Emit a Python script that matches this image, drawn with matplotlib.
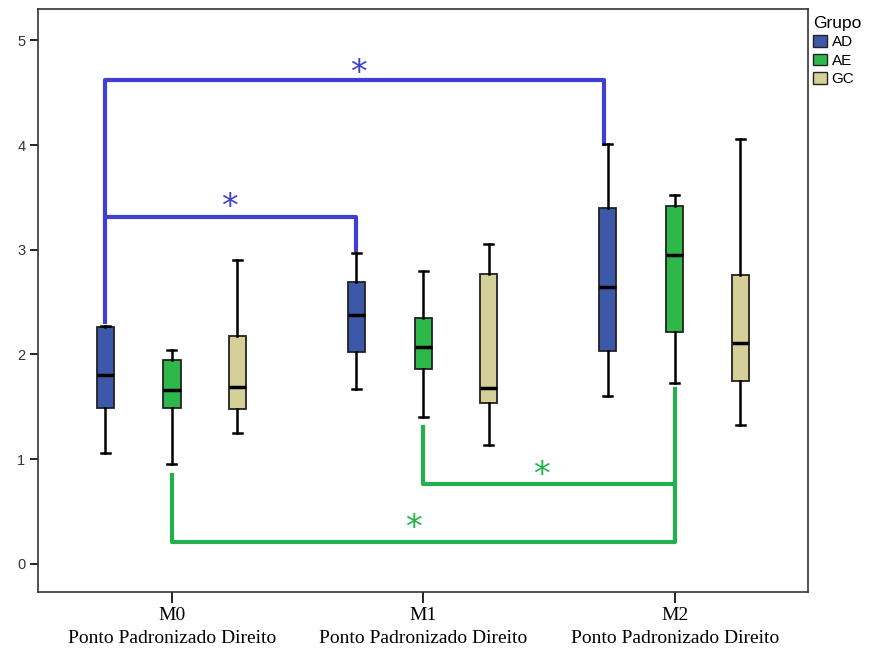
import matplotlib
matplotlib.use("Agg")
import matplotlib.pyplot as plt
from matplotlib.patches import Patch

moments = ["M0", "M1", "M2"]
sublabel = "Ponto Padronizado Direito"
groups = ["AD", "AE", "GC"]
colors = {"AD": "#3d58a8", "AE": "#2fb84a", "GC": "#d5cf98"}

# stats per group: (whislo, q1, med, q3, whishi) for M0, M1, M2
AD = [(1.06, 1.49, 1.80, 2.26, 2.27), (1.67, 2.02, 2.38, 2.69, 2.97), (1.60, 2.03, 2.64, 3.40, 4.01)]
AE = [(0.95, 1.49, 1.66, 1.95, 2.04), (1.40, 1.86, 2.07, 2.35, 2.80), (1.73, 2.21, 2.95, 3.42, 3.52)]
GC = [(1.25, 1.48, 1.69, 2.18, 2.90), (1.13, 1.54, 1.68, 2.77, 3.05), (1.33, 1.75, 2.11, 2.76, 4.06)]
data = {"AD": AD, "AE": AE, "GC": GC}
offsets = {"AD": -0.266, "AE": 0.0, "GC": 0.26}

blue = "#4040d0"
green = "#22b14c"

fig = plt.figure(figsize=(8.75, 6.5), dpi=100)
ax = fig.add_axes([0.0434, 0.0892, 0.88, 0.897])

for g in groups:
    stats = []
    for s in data[g]:
        stats.append(dict(whislo=s[0], q1=s[1], med=s[2], q3=s[3], whishi=s[4], fliers=[]))
    pos = [i + offsets[g] for i in range(3)]
    ax.bxp(stats, positions=pos, widths=0.068, patch_artist=True, showfliers=False,
           boxprops=dict(facecolor=colors[g], edgecolor="#222222", linewidth=1.3),
           medianprops=dict(color="black", linewidth=2.5),
           whiskerprops=dict(color="black", linewidth=1.8),
           capprops=dict(color="black", linewidth=1.8),
           capwidths=0.036, manage_ticks=False, zorder=3)

# significance brackets (blue)
ax.plot([-0.266, -0.266, 1.72, 1.72], [2.31, 4.62, 4.62, 4.01], color=blue, lw=3, zorder=2)
ax.plot([-0.266, 0.734, 0.734], [3.31, 3.31, 3.0], color=blue, lw=3, zorder=2)
ax.text(0.74, 4.68, "*", color=blue, fontsize=24, ha="center", va="center")
ax.text(0.23, 3.40, "*", color=blue, fontsize=24, ha="center", va="center")
# green
ax.plot([0.0, 0.0, 2.0, 2.0], [0.85, 0.21, 0.21, 1.67], color=green, lw=3, zorder=2)
ax.plot([1.0, 1.0, 2.0], [1.31, 0.76, 0.76], color=green, lw=3, zorder=2)
ax.text(1.47, 0.84, "*", color=green, fontsize=24, ha="center", va="center")
ax.text(0.96, 0.34, "*", color=green, fontsize=24, ha="center", va="center")

ax.set_xlim(-0.533, 2.53)
ax.set_ylim(-0.27, 5.3)
ax.set_yticks([0, 1, 2, 3, 4, 5])
ax.set_yticklabels(["0", "1", "2", "3", "4", "5"], fontfamily="Liberation Sans", fontsize=10.5, color="#333333")
ax.set_xticks([0, 1, 2])
ax.set_xticklabels([f"{m}\n{sublabel}" for m in moments], fontfamily="Liberation Serif",
                   fontsize=14, linespacing=1.45)
ax.tick_params(axis="y", length=6, width=1.2, direction="out", pad=3)
ax.tick_params(axis="x", length=8, width=1.2, direction="out", pad=3)
for sp in ax.spines.values():
    sp.set_color("#333333")
    sp.set_linewidth(1.2)

handles = [Patch(facecolor=colors[g], edgecolor="#222222", label=g) for g in groups]
leg = fig.legend(handles=handles, title="Grupo", loc="upper left", bbox_to_anchor=(0.927, 0.978),
                 frameon=False, prop=dict(family="Liberation Sans", size=11),
                 handlelength=0.95, handleheight=0.8, handletextpad=0.3, labelspacing=0.28,
                 borderaxespad=0, borderpad=0.1)
leg.get_title().set_fontfamily("Liberation Sans")
leg.get_title().set_fontsize(12.5)
leg._legend_box.align = "left"

fig.savefig("out.png", dpi=100)
